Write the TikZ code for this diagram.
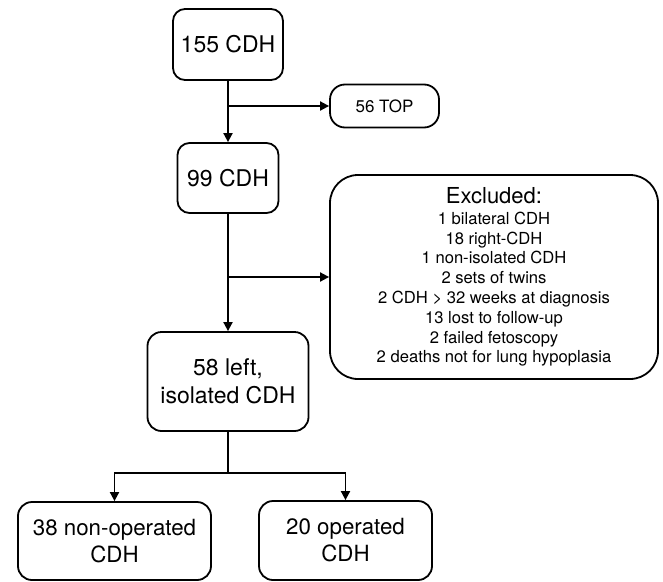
\documentclass[tikz,border=0pt]{standalone}
\usepackage{fontspec}
\setmainfont{TeX Gyre Heros}
\usetikzlibrary{arrows.meta}
\begin{document}
\begin{tikzpicture}[x=1pt,y=-1pt,
  box/.style={draw,line width=1.8pt,rounded corners=12pt,inner sep=0pt,align=center},
  arr/.style={line width=1.8pt,-{Triangle[length=9pt,width=9pt]}},
  ln/.style={line width=1.8pt},
  big/.style={font=\fontsize{23}{28.5}\selectfont},
  small/.style={font=\fontsize{16.6}{19.8}\selectfont}]
\useasboundingbox (0,0) rectangle (663,581);
\node[box,big,minimum width=110pt,minimum height=71pt] (n155) at (228,44.5) {155 CDH};
\node[box,rounded corners=15pt,font=\fontsize{17}{20}\selectfont,minimum width=109pt,minimum height=43pt] (top) at (384.5,106) {56 TOP};
\node[box,big,minimum width=101pt,minimum height=70pt] (n99) at (228,178) {99 CDH};
\node[box,small,rounded corners=28pt,minimum width=328pt,minimum height=204pt] (excl) at (494,277)
 {{\fontsize{22}{22}\selectfont Excluded:}\\[1pt]
  1 bilateral CDH\\ 18 right-CDH\\ 1 non-isolated CDH\\ 2 sets of twins\\
  2 CDH > 32 weeks at diagnosis\\ 13 lost to follow-up\\ 2 failed fetoscopy\\
  2 deaths not for lung hypoplasia};
\node[box,big,rounded corners=14pt,minimum width=161pt,minimum height=99pt] (n58) at (228,381.5) {58 left,\\ isolated CDH};
\node[box,font=\fontsize{22.3}{27}\selectfont,rounded corners=14pt,minimum width=193pt,minimum height=78pt] (n38) at (114.5,541) {38 non-operated\\ CDH};
\node[box,font=\fontsize{22.3}{27}\selectfont,rounded corners=14pt,minimum width=173pt,minimum height=79pt] (n20) at (345.5,540.5) {20 operated\\ CDH};
\coordinate (b1) at (228,106);
\coordinate (b2) at (228,277);
\coordinate (j) at (228,473);
\draw[arr] (n155.south) -- (n99.north);
\draw[arr] (b1) -- (top.west);
\draw[arr] (n99.south) -- (n58.north);
\draw[arr] (b2) -- (excl.west);
\draw[ln] (n58.south) -- (j);
\draw[arr] (j) -| (n38.north);
\draw[arr] (j) -| (n20.north);
\end{tikzpicture}
\end{document}
